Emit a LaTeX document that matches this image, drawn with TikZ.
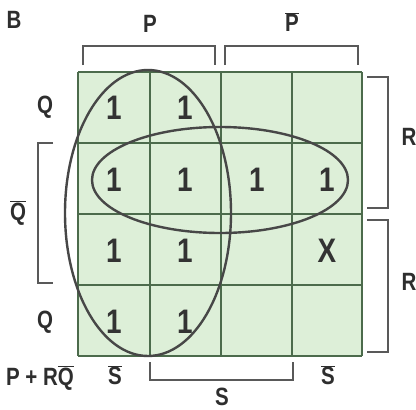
\documentclass[tikz,border=0pt]{standalone}
\usepackage{fontspec}
\setmainfont{Liberation Sans}
\newcommand{\nar}[1]{\scalebox{0.82}[1]{#1}}
\newcommand{\ob}[1]{$\overline{\mbox{#1}}$}
\begin{document}
\begin{tikzpicture}[x=1pt,y=-1pt,
  lab/.style={font=\fontsize{25}{25}\selectfont\bfseries,text=black!82,inner sep=0pt},
  dig/.style={font=\fontsize{34}{34}\selectfont\bfseries,text=black!80,inner sep=0pt},
  gridline/.style={draw=black!70!green!40!gray,line width=1.3pt},
  brk/.style={draw=black!65,line width=1.4pt},
  loop/.style={draw=black!72,line width=2.4pt}]
\useasboundingbox (0,0) rectangle (416,410);
\fill[white] (0,0) rectangle (416,410);
% grid
\fill[fill={rgb,255:red,221;green,239;blue,216}] (78,72) rectangle (362,356);
\foreach \x in {78,150,221,292,362} \draw[gridline] (\x,72) -- (\x,356);
\foreach \y in {72,143,214,285,356} \draw[gridline] (78,\y) -- (362,\y);
% cell entries
\node[dig] (c11) at (114,108) {\nar{1}};
\node[dig] (c12) at (185,108) {\nar{1}};
\node[dig] (c21) at (114,180) {\nar{1}};
\node[dig] (c22) at (185,180) {\nar{1}};
\node[dig] (c23) at (257,180) {\nar{1}};
\node[dig] (c24) at (327,180) {\nar{1}};
\node[dig] (c31) at (114,251) {\nar{1}};
\node[dig] (c32) at (185,251) {\nar{1}};
\node[dig] (c34) at (327,251) {\nar{X}};
\node[dig] (c41) at (114,322) {\nar{1}};
\node[dig] (c42) at (185,322) {\nar{1}};
% loops
\draw[loop] (148,213) ellipse [x radius=83, y radius=143];
\draw[loop] (220,180) ellipse [x radius=128, y radius=53];
% top labels and brackets
\node[lab] (b) at (14,20) {\nar{B}};
\node[lab] (p) at (150,24) {\nar{P}};
\node[lab] (pb) at (292,22) {\nar{\ob{P}}};
\draw[brk] (83,65) -- (83,46) -- (215,46) -- (215,65);
\draw[brk] (225,65) -- (225,46) -- (358,46) -- (358,65);
% left labels and bracket
\node[lab] (q1) at (45,107) {\nar{Q}};
\node[lab] (qb) at (18,213) {\nar{\ob{Q}}};
\node[lab] (q2) at (45,322) {\nar{Q}};
\draw[brk] (53,143) -- (38,143) -- (38,283) -- (53,283);
% right labels and brackets
\node[lab] (r1) at (409,137) {\nar{R}};
\node[lab] (r2) at (409,282) {\nar{R}};
\draw[brk] (367,77) -- (388,77) -- (388,208) -- (367,208);
\draw[brk] (367,220) -- (388,220) -- (388,352) -- (367,352);
% bottom labels and bracket
\node[lab] (f) at (40,378) {\nar{P + R\ob{Q}}};
\node[lab] (sb1) at (115,375) {\nar{\ob{S}}};
\node[lab] (sb2) at (328,375) {\nar{\ob{S}}};
\node[lab] (s) at (222,397) {\nar{S}};
\draw[brk] (150,362) -- (150,380) -- (293,380) -- (293,362);
\end{tikzpicture}
\end{document}
